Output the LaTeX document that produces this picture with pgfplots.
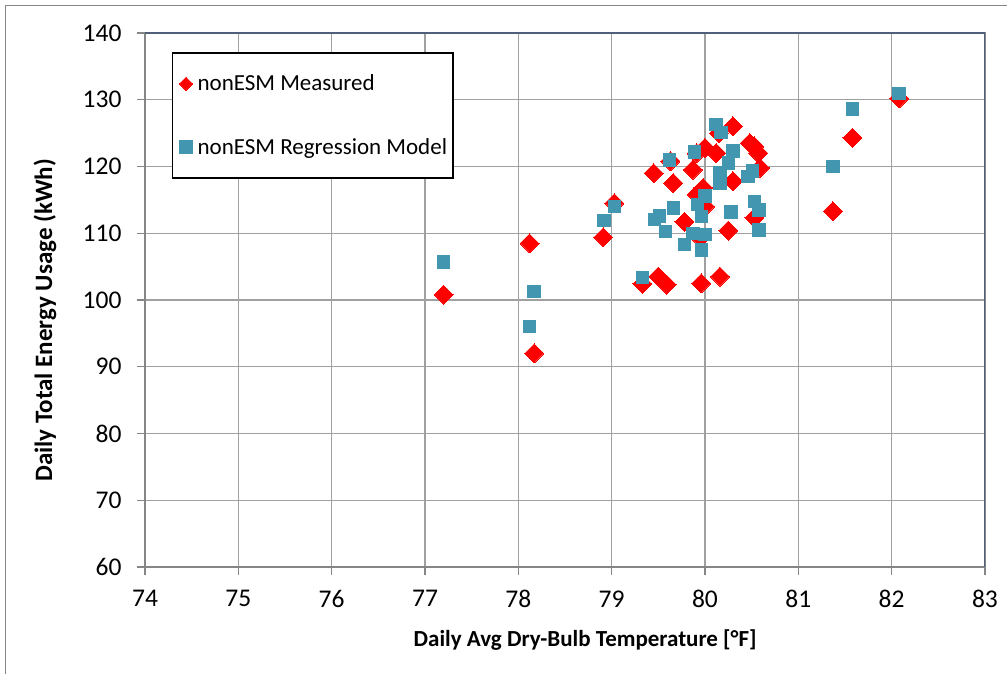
\documentclass[border=0pt]{standalone}
\usepackage{fontspec}
\setmainfont{Carlito}
\usepackage{pgfplots}
\pgfplotsset{compat=1.18}
\definecolor{redm}{RGB}{255,0,0}
\definecolor{bluem}{RGB}{66,150,176}
\definecolor{gridc}{RGB}{160,160,160}
\definecolor{framec}{RGB}{134,134,134}
\definecolor{boxc}{RGB}{80,96,120}
\begin{document}
\begin{tikzpicture}[x=1pt,y=1pt]
\useasboundingbox (-145,-107) rectangle (862,567);
\draw[framec,line width=1pt] (-139,-107) -- (-139,561) -- (862,561);
\begin{axis}[
  at={(0,0)}, anchor=south west,
  scale only axis, width=840pt, height=534pt,
  xmin=74, xmax=83, ymin=60, ymax=140,
  xtick={74,75,...,83}, ytick={60,70,...,140},
  grid=major,
  major grid style={gridc,line width=1.3pt},
  axis line style={framec,line width=1.3pt},
  tick style={framec,line width=1.3pt},
  tick align=outside, tick pos=left,
  major tick length=8pt,
  /pgf/number format/assume math mode=true,
  tick label style={font=\fontsize{25.5}{29}\selectfont},
  xticklabel style={yshift=-12pt},
  yticklabel style={xshift=-12pt},
  xlabel={Daily Avg Dry-Bulb Temperature [°F]},
  ylabel={Daily Total Energy Usage (kWh)},
  xlabel style={font=\bfseries\fontsize{23}{27}\selectfont, at={(axis description cs:0.524,-0.1367)}, anchor=center},
  ylabel style={font=\bfseries\fontsize{25}{29}\selectfont, at={(axis description cs:-0.119,0.462)}, anchor=center},
  legend style={at={(rel axis cs:0.0321,0.9637)}, anchor=north west,
    draw=black, line width=1.2pt, fill=white,
    font=\fontsize{23}{27}\selectfont,
    inner xsep=4pt, inner ysep=20pt,
    row sep=42pt, column sep=0pt,
    nodes={inner sep=2pt}},
  legend cell align=left,
  legend image code/.code={\path[draw=none,fill=none] (-4.5pt,0pt) rectangle (14.5pt,0.1pt);\draw[#1] plot coordinates {(5pt,0pt)};},
]
\addplot[only marks, mark=square*, mark size=6.7pt,
  mark options={rotate=45, fill=redm, draw=redm, line width=0pt},
  legend image post style={mark size=4.7pt}]
coordinates {
(77.20,100.8) (78.12,108.5) (78.17,92.0) (78.91,109.4) (79.03,114.5)
(79.33,102.4) (79.45,119.0) (79.50,103.5) (79.59,102.3) (79.63,120.8)
(79.66,117.5) (79.78,111.7) (79.87,119.5) (79.91,122.0) (79.91,115.8)
(79.95,109.3) (79.96,102.5) (79.98,116.8) (80.00,122.8) (80.00,114.0)
(80.12,122.0) (80.15,125.0) (80.16,103.5) (80.25,110.4) (80.30,126.0)
(80.30,117.8) (80.48,123.5) (80.53,123.0) (80.53,112.3) (80.57,122.0)
(80.59,119.8) (81.37,113.3) (81.58,124.3) (82.08,130.2)
};
\addlegendentry{nonESM Measured}
\addplot[only marks, mark=square*, mark size=6.2pt,
  mark options={fill=bluem, draw=bluem, line width=0pt}]
coordinates {
(77.20,105.7) (78.12,96.0) (78.17,101.3) (78.92,111.9) (79.03,114.0)
(79.33,103.4) (79.46,112.1) (79.51,112.6) (79.58,110.3) (79.62,121.0)
(79.66,113.8) (79.78,108.3) (79.87,110.0) (79.89,122.2) (79.92,114.3)
(79.96,112.5) (79.96,107.5) (80.00,109.8) (80.00,115.6) (80.12,126.3)
(80.17,125.1) (80.16,119.0) (80.16,117.5) (80.25,120.5) (80.28,113.2)
(80.30,122.3) (80.46,118.5) (80.51,119.3) (80.53,114.8) (80.58,113.5)
(80.58,110.5) (81.37,120.0) (81.58,128.6) (82.08,130.9)
};
\addlegendentry{nonESM Regression Model}
\draw[boxc,line width=1.3pt] (rel axis cs:0,1) -- (rel axis cs:1,1) -- (rel axis cs:1,0);
\end{axis}
\end{tikzpicture}
\end{document}
